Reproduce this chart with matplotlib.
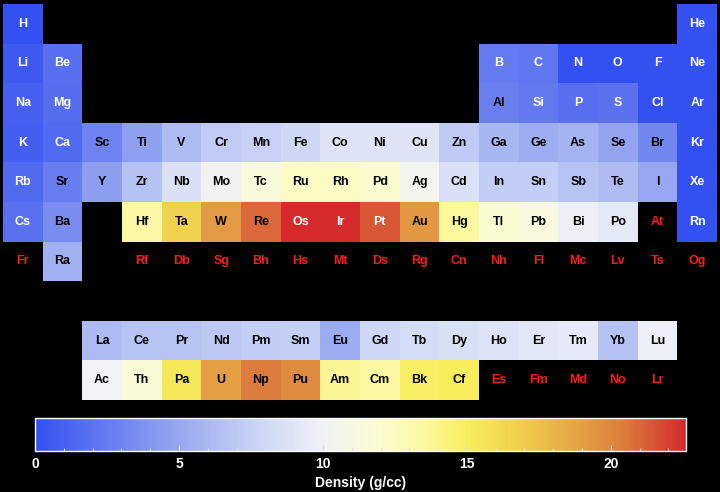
import numpy as np
import matplotlib
matplotlib.use("Agg")
import matplotlib.pyplot as plt
from matplotlib.colors import LinearSegmentedColormap
from matplotlib.ticker import MultipleLocator

plt.rcParams['font.family'] = ['Liberation Sans', 'DejaVu Sans']

# ---- data ----
symbols = ["H", "He", "Li", "Be", "B", "C", "N", "O", "F", "Ne",
           "Na", "Mg", "Al", "Si", "P", "S", "Cl", "Ar",
           "K", "Ca", "Sc", "Ti", "V", "Cr", "Mn", "Fe", "Co", "Ni", "Cu", "Zn",
           "Ga", "Ge", "As", "Se", "Br", "Kr",
           "Rb", "Sr", "Y", "Zr", "Nb", "Mo", "Tc", "Ru", "Rh", "Pd", "Ag", "Cd",
           "In", "Sn", "Sb", "Te", "I", "Xe",
           "Cs", "Ba", "Hf", "Ta", "W", "Re", "Os", "Ir", "Pt", "Au", "Hg",
           "Tl", "Pb", "Bi", "Po", "At", "Rn",
           "Fr", "Ra", "Rf", "Db", "Sg", "Bh", "Hs", "Mt", "Ds", "Rg", "Cn",
           "Nh", "Fl", "Mc", "Lv", "Ts", "Og"]
periods = [1, 1, 2, 2, 2, 2, 2, 2, 2, 2,
           3, 3, 3, 3, 3, 3, 3, 3,
           4, 4, 4, 4, 4, 4, 4, 4, 4, 4, 4, 4, 4, 4, 4, 4, 4, 4,
           5, 5, 5, 5, 5, 5, 5, 5, 5, 5, 5, 5, 5, 5, 5, 5, 5, 5,
           6, 6, 6, 6, 6, 6, 6, 6, 6, 6, 6, 6, 6, 6, 6, 6, 6,
           7, 7, 7, 7, 7, 7, 7, 7, 7, 7, 7, 7, 7, 7, 7, 7, 7]
groups = [1, 18, 1, 2, 13, 14, 15, 16, 17, 18,
          1, 2, 13, 14, 15, 16, 17, 18,
          1, 2, 3, 4, 5, 6, 7, 8, 9, 10, 11, 12, 13, 14, 15, 16, 17, 18,
          1, 2, 3, 4, 5, 6, 7, 8, 9, 10, 11, 12, 13, 14, 15, 16, 17, 18,
          1, 2, 4, 5, 6, 7, 8, 9, 10, 11, 12, 13, 14, 15, 16, 17, 18,
          1, 2, 4, 5, 6, 7, 8, 9, 10, 11, 12, 13, 14, 15, 16, 17, 18]
densities = [0.0000899, 0.0001785, 0.535, 1.848, 2.46, 2.26, 0.00125, 0.00143, 0.0017, 0.0009,
             0.968, 1.738, 2.7, 2.33, 1.823, 1.96, 0.0032, 0.0018,
             0.856, 1.55, 2.985, 4.507, 6.11, 7.19, 7.47, 7.874, 8.9, 8.908, 8.96, 7.14,
             5.904, 5.323, 5.727, 4.819, 3.12, 0.00375,
             1.532, 2.63, 4.472, 6.511, 8.57, 10.28, 11.5, 12.37, 12.45, 12.023, 10.49, 8.65,
             7.31, 7.31, 6.697, 6.24, 4.94, 0.0059,
             1.879, 3.51, 13.31, 16.65, 19.25, 21.02, 22.61, 22.56, 21.45, 19.3, 13.53,
             11.85, 11.34, 9.78, 9.196, None, 0.00973,
             None, 5.5, None, None, None, None, None, None, None, None, None,
             None, None, None, None, None, None]

lan_symbols = ["La", "Ce", "Pr", "Nd", "Pm", "Sm", "Eu", "Gd", "Tb", "Dy", "Ho", "Er", "Tm", "Yb", "Lu"]
lan_densities = [6.146, 6.689, 6.64, 7.01, 7.264, 7.353, 5.244, 7.901, 8.219, 8.551, 8.795, 9.066, 9.321, 6.57, 9.841]
act_symbols = ["Ac", "Th", "Pa", "U", "Np", "Pu", "Am", "Cm", "Bk", "Cf", "Es", "Fm", "Md", "No", "Lr"]
act_densities = [10.07, 11.724, 15.37, 19.05, 20.45, 19.816, 13.69, 13.51, 14.78, 15.1, None, None, None, None, None]

cbar_ticks = [0, 5, 10, 15, 20]
cbar_label = "Density (g/cc)"

# ---- build grid ----
nrows, ncols = 10, 18
grid = np.full((nrows, ncols), np.nan)
labels = []  # (row, col, symbol, value)
for s, p, g, d in zip(symbols, periods, groups, densities):
    r, c = p - 1, g - 1
    if d is not None:
        grid[r, c] = d
    labels.append((r, c, s, d))
for i, (s, d) in enumerate(zip(lan_symbols, lan_densities)):
    r, c = 8, 2 + i
    if d is not None:
        grid[r, c] = d
    labels.append((r, c, s, d))
for i, (s, d) in enumerate(zip(act_symbols, act_densities)):
    r, c = 9, 2 + i
    if d is not None:
        grid[r, c] = d
    labels.append((r, c, s, d))

vmax = np.nanmax(grid)
nodes = [(0, '#3350f0'), (5, '#98a8f0'), (8, '#d0daf6'), (10, '#f0f2f6'),
         (12, '#fcfcd0'), (13.5, '#fcf8a0'), (15, '#f8ee5c'), (17, '#f0cc4c'),
         (19, '#e4a044'), (20.5, '#dc7c3c'), (vmax, '#d42a2c')]
cmap = LinearSegmentedColormap.from_list('dens', [(v / vmax, c) for v, c in nodes])

fig = plt.figure(figsize=(7.2, 4.92), dpi=100, facecolor='black')
ax = fig.add_axes([3 / 720, 1 - 400 / 492, 714 / 720, 396 / 492])
ax.set_facecolor('black')
masked = np.ma.masked_invalid(grid)
mesh = ax.pcolormesh(np.arange(ncols + 1), np.arange(nrows + 1), masked,
                     cmap=cmap, vmin=0, vmax=vmax, shading='flat',
                     edgecolors='none', antialiased=False)
ax.set_xlim(0, ncols)
ax.set_ylim(nrows, 0)
ax.axis('off')

for r, c, s, d in labels:
    if d is None:
        col = '#ff1a1a'
    elif d < 2.5 or d > 21.2:
        col = 'white'
    else:
        col = 'black'
    ax.text(c + 0.5, r + 0.5, s, ha='center', va='center', color=col,
            fontsize=9, fontweight='bold')

cax = fig.add_axes([35 / 720, 1 - 451 / 492, 651 / 720, 33 / 492])
cb = fig.colorbar(mesh, cax=cax, orientation='horizontal')
cb.outline.set_edgecolor('white')
cb.outline.set_linewidth(1)
cb.set_ticks(cbar_ticks)
cax.xaxis.set_minor_locator(MultipleLocator(1))
cax.tick_params(which='major', direction='in', length=4, color='#dddddd', width=0.8,
                labelcolor='white', labelsize=10, pad=4)
cax.tick_params(which='minor', direction='in', length=2, color='#dddddd', width=0.8)
for t in cax.get_xticklabels():
    t.set_fontweight('bold')
cb.set_label(cbar_label, color='white', fontsize=10, fontweight='bold', labelpad=4)

fig.savefig('out.png', dpi=100, facecolor='black')
